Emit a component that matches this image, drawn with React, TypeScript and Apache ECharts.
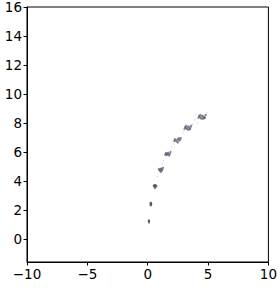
import React, { useEffect, useRef } from "react";
import * as echarts from "echarts";

const xTicks = [-10, -5, 0, 5, 10];
const yTicks = [0, 2, 4, 6, 8, 10, 12, 14, 16];

// Clusters of dense points (x, y)
const cluster1 = [[0.1, 1.12], [0.1, 1.2], [0.1, 1.28], [0.12, 1.22]];
const cluster2 = [[0.24, 2.35], [0.28, 2.42], [0.22, 2.45], [0.3, 2.38], [0.26, 2.3], [0.27, 2.5]];
const cluster3 = [[0.52, 3.6], [0.62, 3.65], [0.67, 3.7], [0.57, 3.72], [0.64, 3.58], [0.72, 3.63], [0.5, 3.68], [0.6, 3.5]];
const cluster4 = [[0.97, 4.75], [1.07, 4.8], [1.17, 4.72], [1.12, 4.85], [1.02, 4.68], [1.22, 4.78], [0.92, 4.82], [1.1, 4.62], [1.27, 4.9]];
const cluster5 = [[1.55, 5.85], [1.65, 5.9], [1.75, 5.82], [1.7, 5.95], [1.6, 5.78], [1.85, 5.88], [1.5, 5.92], [1.78, 5.75], [1.9, 6.0], [1.45, 5.8]];
const cluster6 = [[2.3, 6.8], [2.45, 6.85], [2.6, 6.78], [2.55, 6.9], [2.4, 6.72], [2.7, 6.83], [2.25, 6.88], [2.5, 6.65], [2.75, 6.95], [2.2, 6.75], [2.6, 6.95]];
const cluster7 = [[3.15, 7.65], [3.3, 7.7], [3.45, 7.62], [3.4, 7.75], [3.25, 7.58], [3.55, 7.68], [3.1, 7.72], [3.35, 7.52], [3.6, 7.8], [3.05, 7.6], [3.5, 7.55], [3.2, 7.8]];
const cluster8 = [[4.3, 8.4], [4.45, 8.45], [4.6, 8.38], [4.55, 8.5], [4.4, 8.32], [4.7, 8.42], [4.25, 8.48], [4.5, 8.28], [4.8, 8.55], [4.2, 8.35], [4.65, 8.3], [4.35, 8.55], [4.75, 8.35]];
// Faint stray points around the clusters
const stray = [[2.9, 7.3], [3.0, 7.45], [3.9, 8.2], [4.1, 8.0], [2.0, 6.4], [1.3, 5.4], [1.2, 5.2], [4.9, 8.7], [3.7, 7.9], [2.15, 6.55], [0.8, 4.3], [4.0, 8.6]];

const clusters = [cluster1, cluster2, cluster3, cluster4, cluster5, cluster6, cluster7, cluster8];

const fmt = (v: number) => String(v).replace("-", "\u2212");

export default function App() {
  const ref = useRef<HTMLDivElement>(null);
  useEffect(() => {
    const chart = echarts.init(ref.current!, null, { renderer: "svg" });
    const labelStyle = { color: "#000", fontSize: 13.5, fontFamily: "DejaVu Sans" };
    chart.setOption({
      animation: false,
      grid: { left: 27, right: 7, top: 6, bottom: 28, show: true, borderColor: "#000", borderWidth: 1, containLabel: false },
      xAxis: {
        type: "value", min: -10, max: 10, interval: 5,
        axisLine: { show: true, onZero: false, lineStyle: { color: "#000" } },
        axisTick: { show: true, length: 3.5, inside: false, lineStyle: { color: "#000" }, customValues: xTicks },
        axisLabel: { ...labelStyle, margin: 5, formatter: (v: number) => fmt(v), customValues: xTicks },
        splitLine: { show: false },
      },
      yAxis: {
        type: "value", min: -1.6, max: 16,
        axisLine: { show: true, onZero: false, lineStyle: { color: "#000" } },
        axisTick: { show: true, length: 3.5, inside: false, lineStyle: { color: "#000" }, customValues: yTicks },
        axisLabel: { ...labelStyle, margin: 5, formatter: (v: number) => fmt(v), customValues: yTicks },
        splitLine: { show: false },
      },
      series: [
        ...clusters.map((c) => ({
          type: "scatter",
          data: c,
          symbolSize: 2.2,
          itemStyle: { color: "rgba(60,68,90,0.8)" },
        })),
        {
          type: "scatter",
          data: stray,
          symbolSize: 1.2,
          itemStyle: { color: "rgba(90,100,130,0.4)" },
        },
      ],
    });
    return () => chart.dispose();
  }, []);
  return <div ref={ref} style={{ width: 280, height: 290, position: "absolute", left: 0, top: 0 }} />;
}
